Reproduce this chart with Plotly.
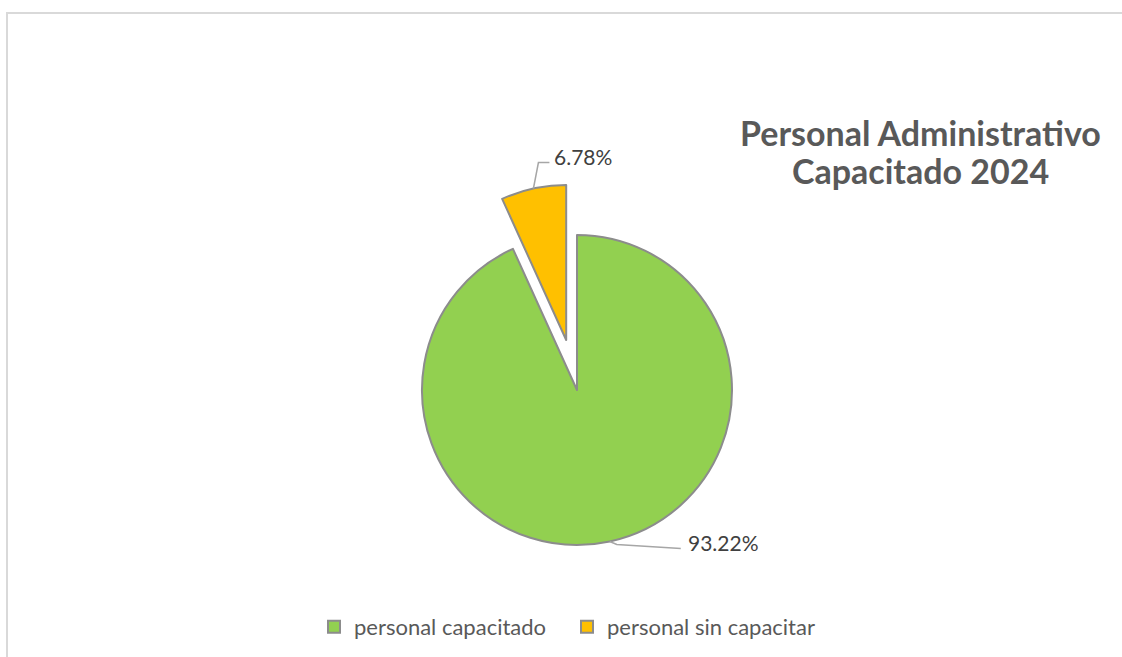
import math
import plotly.graph_objects as go

# ---- data ----
categories = ["personal capacitado", "personal sin capacitar"]
values = [55, 4]
pulls = [0, 0.33]
colors = ["#92d050", "#ffc000"]
title_lines = ["Personal Administrativo", "Capacitado 2024"]

# ---- layout constants (pixels) ----
W, H = 1122, 657
CX, CY, R = 577, 390, 155          # pie centre and radius
FONT = "Lato"
GREY = "#595959"

half = R * (1 + max(pulls))
dom_x = [(CX - half) / W, (CX + half) / W]
dom_y = [1 - (CY + half) / H, 1 - (CY - half) / H]

def px(x):
    return x / W

def py(y):
    return 1 - y / H

fig = go.Figure(go.Pie(
    labels=categories,
    values=values,
    pull=pulls,
    sort=False,
    direction="clockwise",
    rotation=0,
    marker=dict(colors=colors, line=dict(color="#8c8c8c", width=2)),
    textinfo="none",
    hoverinfo="label+percent",
    domain=dict(x=dom_x, y=dom_y),
))

# label geometry computed from the data: slice bisectors
total = sum(values)
start = 0.0
label_specs = []
for i, v in enumerate(values):
    frac = v / total
    mid = (start + frac / 2) * 2 * math.pi   # clockwise from 12 o'clock
    sx, sy = math.sin(mid), -math.cos(mid)
    ox, oy = CX + pulls[i] * R * sx, CY + pulls[i] * R * sy
    ax, ay = ox + R * sx, oy + R * sy           # point on the arc
    label_specs.append((ax, ay, f"{frac * 100:.2f}%"))
    start += frac

shapes = []
annotations = []
LBL_FONT = dict(family=FONT, size=21, color="#404040")
# small slice label (6.78%) : elbow up then right
ax, ay, txt = label_specs[1]
p1 = (ax + 5, ay - 26)
p2 = (p1[0] + 11, p1[1])
shapes.append(dict(type="path", xref="paper", yref="paper",
                   path=f"M{px(ax)},{py(ay)} L{px(p1[0])},{py(p1[1])} L{px(p2[0])},{py(p2[1])}",
                   line=dict(color="#a6a6a6", width=1.5)))
annotations.append(dict(x=px(p2[0] + 3), y=py(p1[1] - 6), xref="paper", yref="paper",
                        text=txt, showarrow=False, xanchor="left", yanchor="middle",
                        font=LBL_FONT))
# big slice label (93.22%)
ax, ay, txt = label_specs[0]
p1 = (ax + 7, ay + 3)
p2 = (ax + 71, ay + 7)
shapes.append(dict(type="path", xref="paper", yref="paper",
                   path=f"M{px(ax)},{py(ay)} L{px(p1[0])},{py(p1[1])} L{px(p2[0])},{py(p2[1])}",
                   line=dict(color="#a6a6a6", width=1.5)))
annotations.append(dict(x=px(p2[0] + 5), y=py(ay + 1), xref="paper", yref="paper",
                        text=txt, showarrow=False, xanchor="left", yanchor="middle",
                        font=LBL_FONT))

# title (two lines)
annotations.append(dict(x=px(920), y=py(132), xref="paper", yref="paper",
                        text=f"<b>{title_lines[0]}</b>", showarrow=False,
                        xanchor="center", yanchor="middle",
                        font=dict(family=FONT, size=34, color=GREY)))
annotations.append(dict(x=px(920), y=py(171), xref="paper", yref="paper",
                        text=f"<b>{title_lines[1]}</b>", showarrow=False,
                        xanchor="center", yanchor="middle",
                        font=dict(family=FONT, size=34, color=GREY)))

# chart-area border
shapes.append(dict(type="rect", xref="paper", yref="paper",
                   x0=px(7), x1=px(W + 5), y0=py(H + 5), y1=py(13),
                   line=dict(color="#d9d9d9", width=2), fillcolor="rgba(0,0,0,0)",
                   layer="below"))

fig.update_layout(
    width=W, height=H,
    margin=dict(l=0, r=0, t=0, b=0),
    paper_bgcolor="white",
    plot_bgcolor="white",
    showlegend=True,
    legend=dict(orientation="h", x=px(314), xanchor="left", y=py(627), yanchor="middle",
                entrywidth=208, entrywidthmode="pixels",
                font=dict(family=FONT, size=22, color=GREY),
                bgcolor="rgba(0,0,0,0)", itemclick=False),
    shapes=shapes,
    annotations=annotations,
)

fig.write_html("out.html",
               config={"displayModeBar": False},
               post_script="document.body.style.margin='0';document.body.style.overflow='hidden';")
